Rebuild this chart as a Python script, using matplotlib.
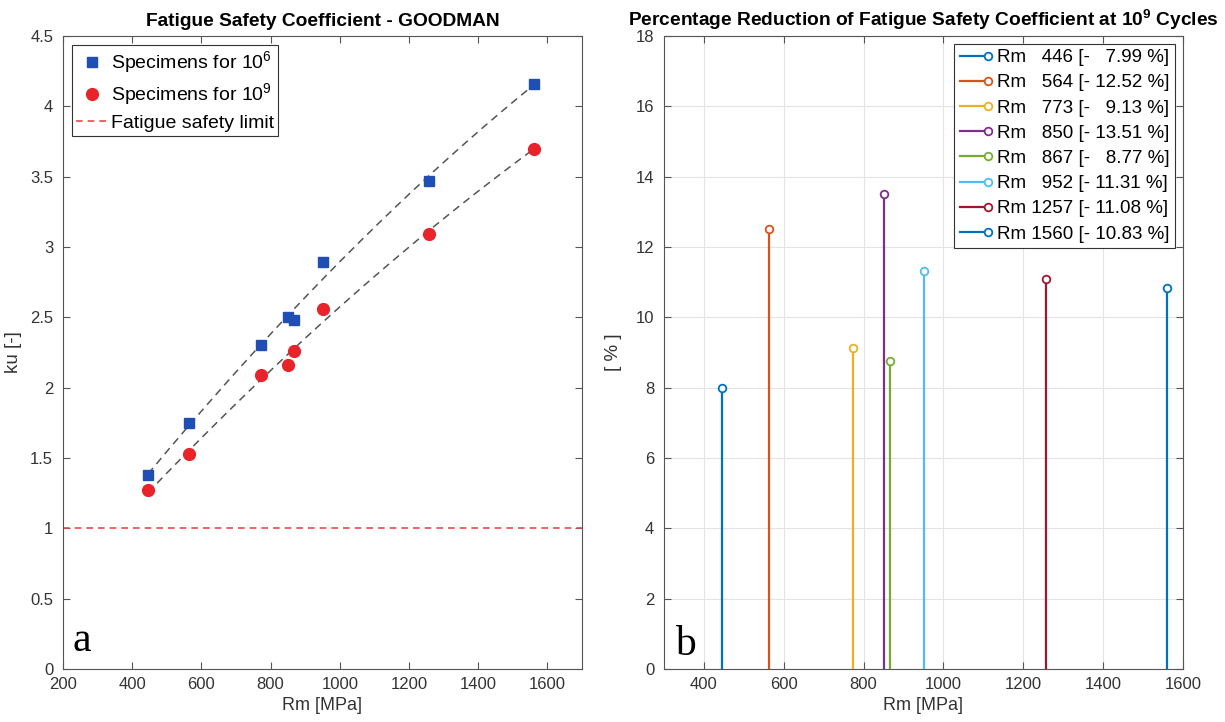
import numpy as np
import matplotlib
matplotlib.use("Agg")
import matplotlib.pyplot as plt
from matplotlib.lines import Line2D
from matplotlib.legend_handler import HandlerLine2D

plt.rcParams['font.family'] = ['Liberation Sans', 'DejaVu Sans']
plt.rcParams['mathtext.fontset'] = 'custom'
plt.rcParams['mathtext.rm'] = 'Liberation Sans'
plt.rcParams['mathtext.bf'] = 'Liberation Sans:bold'

# ── data ────────────────────────────────────────────────────────────
rm = [446, 564, 773, 850, 867, 952, 1257, 1560]
ku_1e6 = [1.38, 1.75, 2.30, 2.50, 2.48, 2.89, 3.47, 4.16]
ku_1e9 = [1.27, 1.53, 2.09, 2.16, 2.26, 2.56, 3.09, 3.70]
reduction_pct = [7.99, 12.52, 9.13, 13.51, 8.77, 11.31, 11.08, 10.83]
safety_limit = 1.0

# MATLAB default colour order
stem_colors = ['#0072BD', '#D95319', '#EDB120', '#7E2F8E',
               '#77AC30', '#4DBEEE', '#A2142F', '#0072BD']

AXIS_COLOR = '#555555'
TEXT_COLOR = '#333333'


class StemHandler(HandlerLine2D):
    """Legend entry like MATLAB's stem: line with the marker at its right end."""

    def create_artists(self, legend, orig_handle, xdescent, ydescent,
                       width, height, fontsize, trans):
        arts = super().create_artists(legend, orig_handle, xdescent, ydescent,
                                      width, height, fontsize, trans)
        line = arts[0]
        line.set_markevery([len(line.get_xdata()) - 1])
        return arts


def matlab_axes(ax):
    for s in ax.spines.values():
        s.set_color(AXIS_COLOR)
        s.set_linewidth(0.8)
    ax.tick_params(direction='in', top=True, right=True, length=5,
                   color=AXIS_COLOR, labelcolor=TEXT_COLOR, labelsize=12)
    ax.tick_params(axis='x', pad=6)
    ax.tick_params(axis='y', pad=7)


fig = plt.figure(figsize=(12.25, 7.22), dpi=100)
ax1 = fig.add_axes([0.0514, 0.0734, 0.4237, 0.8767])
ax2 = fig.add_axes([0.542, 0.0734, 0.4237, 0.8767])

# ── panel a ─────────────────────────────────────────────────────────
xfit = np.linspace(min(rm), max(rm), 200)
for series in (ku_1e6, ku_1e9):
    coef = np.polyfit(rm, series, 2)
    ax1.plot(xfit, np.polyval(coef, xfit), color='#555555', lw=1.1,
             ls=(0, (5, 3.5)), zorder=2)

ax1.plot(rm, ku_1e6, ls='none', marker='s', ms=6.5, color='#1f4fb5',
         label='Specimens for 10$^6$', zorder=3)
ax1.plot(rm, ku_1e9, ls='none', marker='o', ms=8.5, color='#e8232a',
         label='Specimens for 10$^9$', zorder=3)
ax1.axhline(safety_limit, color='#e84a4a', lw=1.2, ls=(0, (4, 3)),
            label='Fatigue safety limit', zorder=2)

ax1.set_xlim(200, 1700)
ax1.set_ylim(0, 4.5)
xt1 = np.arange(200, 1601, 200)
yt1 = np.arange(0, 4.51, 0.5)
ax1.set_xticks(xt1)
ax1.set_xticklabels([f"{v:g}" for v in xt1])
ax1.set_yticks(yt1)
ax1.set_yticklabels([f"{v:g}" for v in yt1])
matlab_axes(ax1)
ax1.set_xlabel('Rm [MPa]', fontsize=13, color=TEXT_COLOR, labelpad=3)
ax1.set_ylabel('ku [-]', fontsize=13.5, color=TEXT_COLOR, labelpad=6)
ax1.set_title('Fatigue Safety Coefficient - GOODMAN', fontsize=13.8,
              fontweight='bold', pad=7)
leg1 = ax1.legend(loc='upper left', fontsize=14, frameon=True, fancybox=False,
                  edgecolor='#333333', borderaxespad=0.45, handlelength=1.6,
                  handletextpad=0.2, labelspacing=0.3, borderpad=0.22,
                  framealpha=1)
leg1.get_frame().set_linewidth(0.8)
ax1.text(0.019, 0.028, 'a', transform=ax1.transAxes, fontsize=30,
         family='Liberation Serif', ha='left', va='baseline')

# ── panel b ─────────────────────────────────────────────────────────
handles = []
for x, p, c in zip(rm, reduction_pct, stem_colors):
    ax2.vlines(x, 0, p, color=c, lw=1.6, zorder=3)
    ax2.plot([x], [p], ls='none', marker='o', ms=5.5, mfc='white', mec=c,
             mew=1.3, zorder=4)
    lab = f"Rm {x:4d} [- {p:5.2f} %]".replace('  ', '\u2007 ')
    handles.append(Line2D([0], [0], color=c, lw=1.6, marker='o', ms=5.5,
                          mfc='white', mec=c, mew=1.3, label=lab))

ax2.set_xlim(300, 1600)
ax2.set_ylim(0, 18)
xt2 = np.arange(400, 1601, 200)
ax2.set_xticks(xt2)
ax2.set_xticklabels([f"{v:g}" for v in xt2])
ax2.set_yticks(np.arange(0, 19, 2))
ax2.grid(True, color='#e3e3e3', lw=0.8, zorder=0)
ax2.set_axisbelow(True)
matlab_axes(ax2)
ax2.set_xlabel('Rm [MPa]', fontsize=13, color=TEXT_COLOR, labelpad=3)
ax2.set_ylabel('[ % ]', fontsize=13.5, color=TEXT_COLOR, labelpad=10)
ax2.set_title(r'Percentage Reduction of Fatigue Safety Coefficient at '
              r'$\mathbf{10^{9}}$ Cycles', fontsize=13.8, fontweight='bold',
              pad=7)
leg2 = ax2.legend(handles=handles, loc='upper right', fontsize=13.5,
                  frameon=True, fancybox=False, edgecolor='#333333',
                  borderaxespad=0.4, handlelength=1.5, handletextpad=0.5,
                  labelspacing=0.43, borderpad=0.3, framealpha=1,
                  handler_map={Line2D: StemHandler()})
leg2.get_frame().set_linewidth(0.8)
ax2.text(0.022, 0.022, 'b', transform=ax2.transAxes, fontsize=30,
         family='Liberation Serif', ha='left', va='baseline')

fig.savefig('out.png', dpi=100)
